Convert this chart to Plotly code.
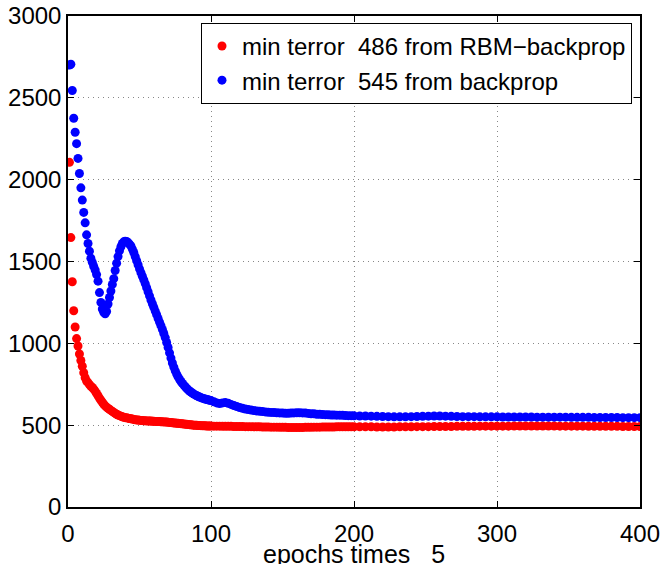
"""Training error per epoch: RBM-pretrained backprop vs plain backprop."""

import plotly.graph_objects as go

# Epoch positions (every epoch up to 100, sparser later on)
epochs = list(range(1, 101)) + list(range(102, 201, 2)) + list(range(204, 401, 4))

# Error of the RBM-pretrained network
rbm_error = [
    # every epoch, 1..100
    2106, 1646, 1376, 1199, 1100, 1029, 984, 935, 895, 860,
    820, 790, 770, 760, 748, 738, 730, 720, 708, 694,
    680, 665, 652, 640, 628, 618, 610, 603, 597, 590,
    584, 578, 572, 567, 562, 558, 555, 551, 548, 546,
    545, 543, 541, 539, 537, 535, 533, 532, 531, 530,
    529, 528, 527, 527, 526, 526, 525, 525, 524, 524,
    523, 523, 522, 522, 521, 521, 520, 520, 519, 518,
    517, 516, 515, 514, 513, 512, 511, 510, 509, 508,
    507, 506, 505, 504, 503, 502, 501, 500, 499, 499,
    498, 498, 497, 497, 496, 496, 495, 495, 495, 495,
    # every 2 epochs, 102..200
    494, 494, 494, 493, 493, 493, 493, 492, 492, 492,
    492, 491, 491, 491, 490, 490, 490, 489, 489, 489,
    488, 488, 488, 487, 487, 487, 486, 486, 486, 486,
    486, 486, 487, 487, 487, 488, 488, 488, 489, 489,
    489, 489, 489, 490, 490, 490, 490, 490, 490, 490,
    # every 4 epochs, 204..400
    490, 490, 490, 489, 489, 489, 489, 490, 490, 490,
    491, 491, 491, 492, 492, 492, 492, 493, 493, 493,
    493, 494, 494, 494, 494, 494, 494, 495, 495, 495,
    495, 495, 495, 495, 495, 494, 494, 494, 494, 494,
    493, 493, 493, 493, 493, 493, 492, 492, 492, 492,
]

# Error of the network trained with backprop only
bp_error = [
    # every epoch, 1..100
    2700, 2705, 2545, 2375, 2290, 2220, 2130, 2038, 1950, 1875,
    1800, 1736, 1663, 1610, 1563, 1520, 1495, 1470, 1448, 1420,
    1380, 1310, 1250, 1210, 1190, 1180, 1195, 1240, 1280, 1320,
    1360, 1395, 1445, 1490, 1530, 1565, 1590, 1610, 1620, 1624,
    1622, 1615, 1606, 1595, 1576, 1555, 1530, 1505, 1480, 1455,
    1432, 1410, 1388, 1365, 1340, 1315, 1290, 1265, 1242, 1220,
    1197, 1175, 1152, 1130, 1108, 1085, 1060, 1035, 1005, 975,
    942, 910, 880, 855, 832, 812, 795, 780, 767, 755,
    745, 735, 725, 716, 709, 702, 696, 690, 685, 680,
    676, 672, 668, 665, 662, 660, 657, 655, 652, 650,
    # every 2 epochs, 102..200
    643, 636, 632, 636, 638, 634, 627, 620, 614, 608,
    603, 599, 595, 592, 589, 587, 585, 583, 581, 579,
    578, 577, 576, 575, 574, 573, 573, 574, 575, 576,
    576, 575, 574, 572, 570, 569, 567, 566, 565, 564,
    563, 562, 562, 561, 561, 560, 559, 558, 558, 557,
    # every 4 epochs, 204..400
    556, 556, 555, 554, 553, 552, 551, 551, 551, 552,
    553, 554, 555, 556, 556, 555, 554, 553, 552, 552,
    552, 551, 551, 551, 551, 550, 550, 550, 550, 550,
    550, 549, 549, 549, 549, 549, 549, 548, 548, 548,
    548, 547, 547, 547, 547, 547, 546, 546, 546, 546,
]

x_ticks = [0, 100, 200, 300, 400]
y_ticks = [0, 500, 1000, 1500, 2000, 2500, 3000]

NBSP = "\u00a0"
FONT = "Liberation Sans, Arial, sans-serif"

fig = go.Figure()

fig.add_trace(
    go.Scatter(
        x=epochs,
        y=rbm_error,
        mode="markers",
        name=f"min terror{NBSP}{NBSP}486 from RBM\u2212backprop",
        marker=dict(color="#ff0000", size=9, line=dict(width=0)),
    )
)

fig.add_trace(
    go.Scatter(
        x=epochs,
        y=bp_error,
        mode="markers",
        name=f"min terror{NBSP}{NBSP}545 from backprop",
        marker=dict(color="#0000ff", size=9, line=dict(width=0)),
    )
)

axis_common = dict(
    showline=True,
    linecolor="black",
    linewidth=1.5,
    mirror="ticks",
    ticks="inside",
    ticklen=6,
    tickwidth=1,
    tickcolor="black",
    showgrid=True,
    gridcolor="#888888",
    gridwidth=1,
    griddash="1px,4px",
    zeroline=False,
    automargin=False,
    tickfont=dict(size=24, color="black", family=FONT),
)

fig.update_layout(
    width=661,
    height=564,
    margin=dict(l=68, r=21, t=16, b=57),
    paper_bgcolor="white",
    plot_bgcolor="white",
    font=dict(family=FONT, color="black"),
    showlegend=True,
    legend=dict(
        x=0.986,
        y=0.986,
        xanchor="right",
        yanchor="top",
        bgcolor="white",
        bordercolor="black",
        borderwidth=1,
        font=dict(size=24, color="black", family=FONT),
        tracegroupgap=0,
    ),
    xaxis=dict(range=[0, 400], tickvals=x_ticks, ticklabelstandoff=4, **axis_common),
    yaxis=dict(range=[0, 3000], tickvals=y_ticks, **axis_common),
    annotations=[
        dict(
            text=f"epochs times{NBSP}{NBSP}{NBSP}5",
            xref="paper",
            yref="paper",
            x=0.5,
            y=-0.096,
            xanchor="center",
            yanchor="middle",
            showarrow=False,
            font=dict(size=25, color="black", family=FONT),
        )
    ],
)

# drop the default page margin so the figure sits at the window's top-left corner
fig.write_html(
    "out.html",
    config={"displayModeBar": False},
    post_script="document.body.style.margin = '0';",
)
